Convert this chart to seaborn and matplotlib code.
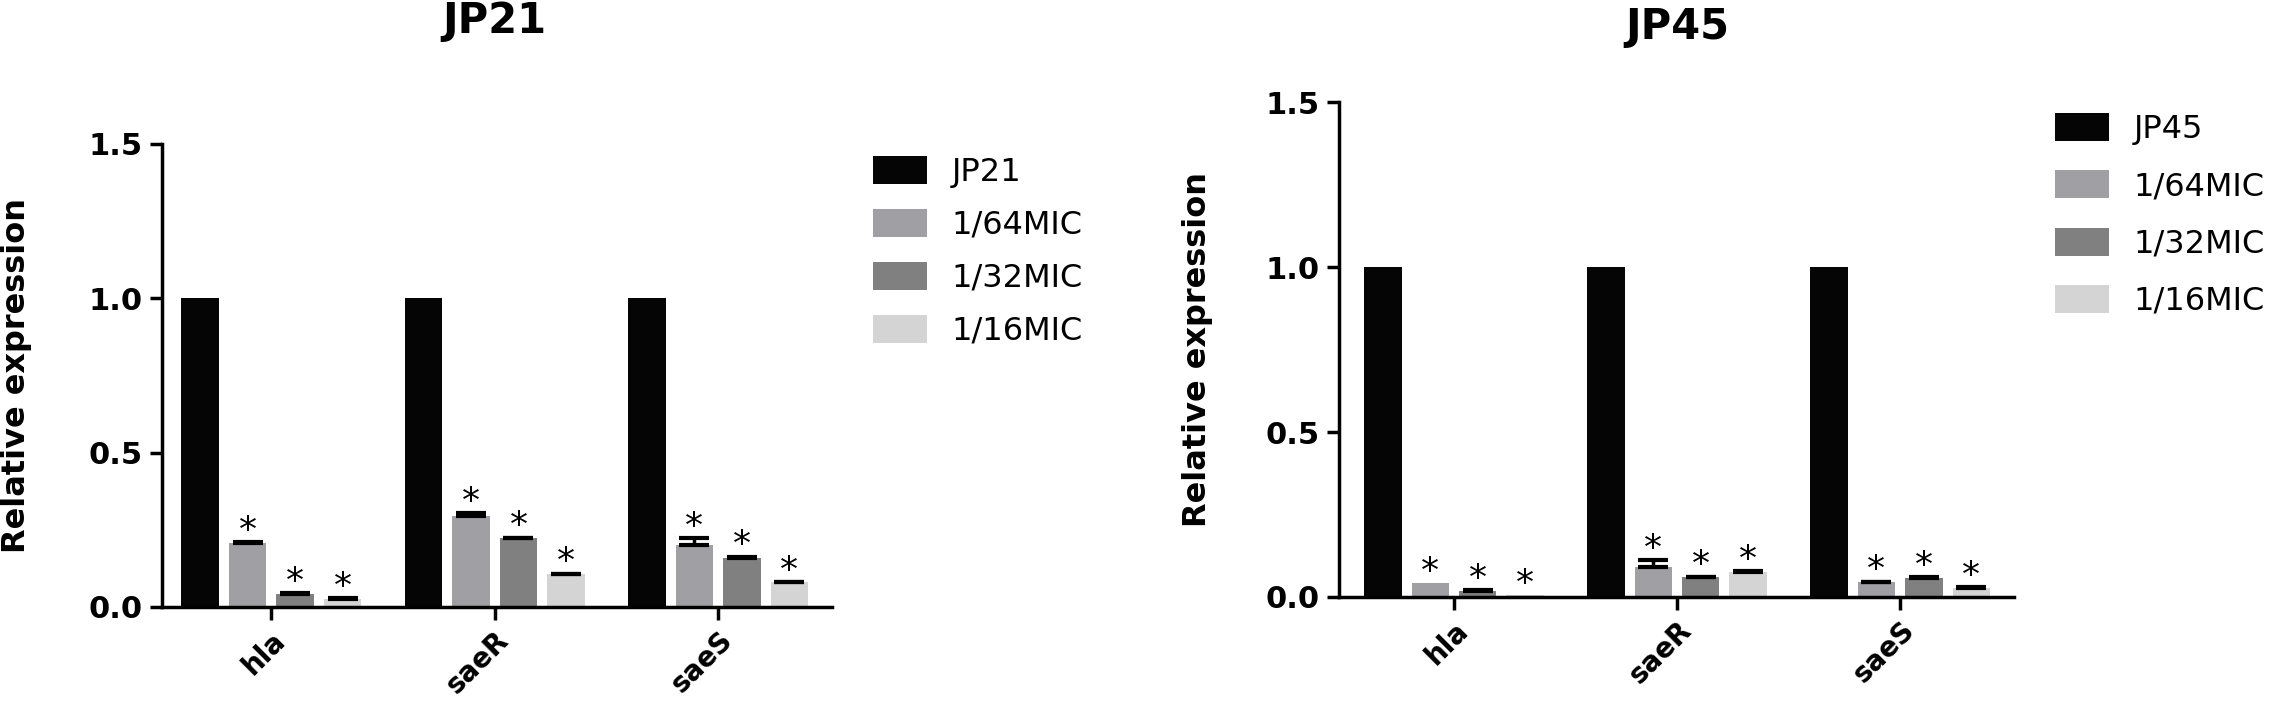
"""
Relative expression of hla / saeR / saeS under sub-MIC treatment (JP21, JP45)
"""

import matplotlib
matplotlib.use("Agg")
import matplotlib.pyplot as plt
import pandas as pd
import seaborn as sns

# === Data ===
genes = ["hla", "saeR", "saeS"]
doses = ["1/64MIC", "1/32MIC", "1/16MIC"]

jp21_control = [1.0, 1.0, 1.0]
jp21_mic64 = [0.206, 0.294, 0.200]
jp21_mic32 = [0.042, 0.222, 0.159]
jp21_mic16 = [0.027, 0.106, 0.080]
jp21_err64 = [0.003, 0.009, 0.022]
jp21_err32 = [0.002, 0.002, 0.004]
jp21_err16 = [0.001, 0.002, 0.001]

jp45_control = [1.0, 1.0, 1.0]
jp45_mic64 = [0.041, 0.090, 0.044]
jp45_mic32 = [0.018, 0.060, 0.058]
jp45_mic16 = [0.005, 0.076, 0.028]
jp45_err64 = [0.0, 0.021, 0.002]
jp45_err32 = [0.003, 0.002, 0.002]
jp45_err16 = [0.0, 0.002, 0.002]

colors = ["#050505", "#a0a0a4", "#808080", "#d4d4d4"]

sns.set_style("ticks", {"axes.edgecolor": "black", "text.color": "black",
                        "axes.labelcolor": "black", "xtick.color": "black",
                        "ytick.color": "black"})
plt.rcParams["font.family"] = ["DejaVu Sans"]


def build_frame(strain, control, means, errs):
    labels = [strain] + doses
    rows = []
    for label, vals, err in zip(labels, [control] + means, [[0.0] * 3] + errs):
        for g, v, e in zip(genes, vals, err):
            rows.append({"gene": g, "group": label, "value": v, "err": e})
    return pd.DataFrame(rows), labels


def draw_panel(ax, strain, control, means, errs, xlim, label_x,
               legend_anchor, spacing):
    df, labels = build_frame(strain, control, means, errs)
    sns.barplot(data=df, x="gene", y="value", hue="group", hue_order=labels,
                order=genes, palette=colors, saturation=1, width=0.85, gap=0.21,
                errorbar=None, linewidth=0, ax=ax)

    # upper-only error bars + significance stars
    for container, label in zip(ax.containers, labels):
        sub = df[df["group"] == label]
        for bar, (_, r) in zip(container.patches, sub.iterrows()):
            xc = bar.get_x() + bar.get_width() / 2
            top = bar.get_height()
            if r["err"] > 0:
                ax.errorbar(xc, top, yerr=[[0], [r["err"]]], fmt="none",
                            ecolor="black", elinewidth=2.5, capsize=11,
                            capthick=3, zorder=3)
            if label != strain:
                ax.annotate("*", xy=(xc, top + r["err"]), xytext=(0, 1),
                            textcoords="offset points", ha="center",
                            va="baseline", fontsize=26, color="black")

    ax.set_xlim(*xlim)
    ax.set_ylim(0, 1.5)
    ax.set_yticks([0, 0.5, 1.0, 1.5])
    ax.set_yticklabels(["0.0", "0.5", "1.0", "1.5"])
    ax.set_xlabel("")
    ax.set_ylabel("Relative expression", fontsize=23, fontweight="bold",
                  color="black")
    ax.yaxis.set_label_coords(label_x, 0.5)

    sns.despine(ax=ax)
    for side in ["left", "bottom"]:
        ax.spines[side].set_linewidth(2.5)
        ax.spines[side].set_color("black")
    ax.tick_params(axis="both", length=9, width=2.5, labelsize=22, pad=5,
                   colors="black")
    ax.tick_params(axis="x", labelsize=20, pad=5)
    for lab in ax.get_yticklabels():
        lab.set_fontweight("bold")
    for lab in ax.get_xticklabels():
        lab.set_fontweight("bold")
        lab.set_rotation(45)
        lab.set_ha("right")
        lab.set_rotation_mode("anchor")

    handles, hl = ax.get_legend_handles_labels()
    leg = ax.legend(handles, hl, loc="upper left", bbox_to_anchor=legend_anchor,
                    bbox_transform=ax.figure.transFigure, frameon=False,
                    fontsize=23, handlelength=1.69, handleheight=0.97,
                    handletextpad=0.78, labelspacing=spacing, borderpad=0,
                    borderaxespad=0)
    for t in leg.get_texts():
        t.set_color("black")


def main():
    fig = plt.figure(figsize=(22.72, 7.08), dpi=100)
    ax1 = fig.add_axes([0.0713, 0.1427, 0.2949, 0.654])
    ax2 = fig.add_axes([0.5893, 0.1568, 0.2971, 0.699])

    draw_panel(ax1, "JP21", jp21_control,
               [jp21_mic64, jp21_mic32, jp21_mic16],
               [jp21_err64, jp21_err32, jp21_err16],
               (-0.49, 2.51), -0.194, (0.3842, 0.780), 0.66)
    draw_panel(ax2, "JP45", jp45_control,
               [jp45_mic64, jp45_mic32, jp45_mic16],
               [jp45_err64, jp45_err32, jp45_err16],
               (-0.516, 2.51), -0.187, (0.9045, 0.840), 0.79)

    fig.text(494 / 2272, 1 - 21 / 708, "JP21", ha="center", va="center",
             fontsize=30, fontweight="bold", color="black")
    fig.text(1677 / 2272, 1 - 27 / 708, "JP45", ha="center", va="center",
             fontsize=30, fontweight="bold", color="black")

    fig.savefig("out.png", dpi=100)
    plt.close(fig)


if __name__ == "__main__":
    main()
